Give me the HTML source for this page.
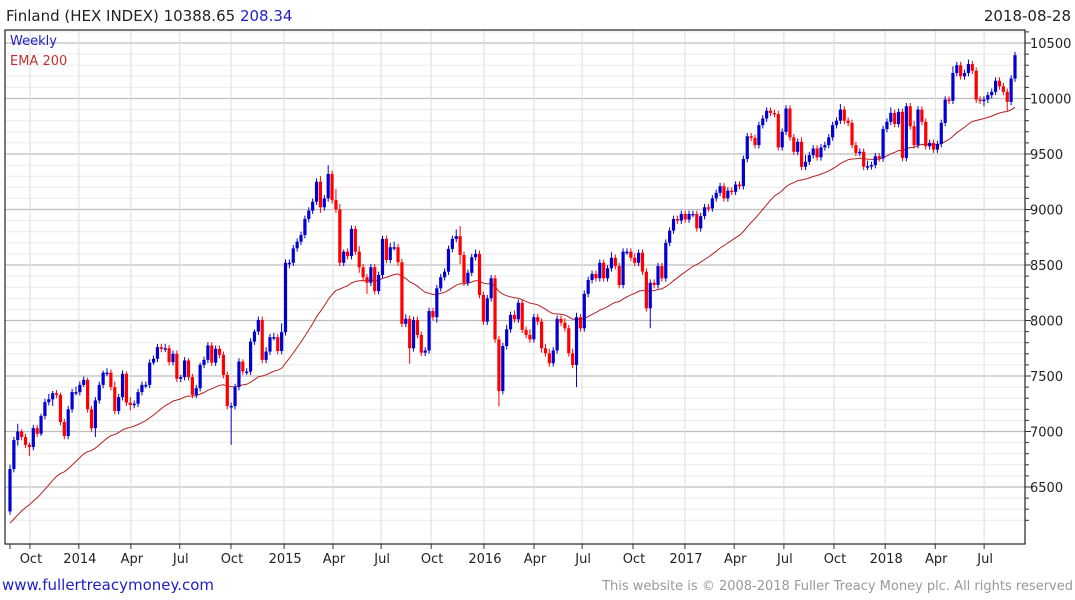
<!DOCTYPE html>
<html><head><meta charset="utf-8"><style>
body{margin:0;background:#fff;width:1075px;height:600px;overflow:hidden;font-family:"DejaVu Sans","Liberation Sans",sans-serif;}
svg{position:absolute;left:0;top:0;font-family:"DejaVu Sans","Liberation Sans",sans-serif}
</style></head><body>
<svg id="chart" width="1075" height="600" xmlns="http://www.w3.org/2000/svg">
<text x="6" y="21" font-size="15" fill="#222">Finland (HEX INDEX) 10388.65 <tspan fill="#1e1ec8">208.34</tspan></text>
<text x="1071" y="21" font-size="15" fill="#222" text-anchor="end">2018-08-28</text>
<g id="grid"></g>
<g id="ema"></g>
<g id="candles"></g>
<rect x="5" y="30" width="1020" height="514" fill="none" stroke="#222" stroke-width="1.2"/>
<g id="yaxis"></g>
<g id="xaxis"></g>
<text x="10" y="45" font-size="13" fill="#1e1ec8">Weekly</text>
<text x="10" y="65" font-size="13" fill="#c03030">EMA 200</text>
<text x="2" y="590" font-size="15" fill="#1e1ec8">www.fullertreacymoney.com</text>
<text x="1073" y="590" font-size="13" fill="#999" text-anchor="end">This website is © 2008-2018 Fuller Treacy Money plc. All rights reserved</text>
</svg>
<script>
const firstOpen = 6280;
const closes = [
6662,6923,7000,6950,6880,6860,7030,6980,7140,7265,7290,7345,7330,7085,6960,7200,7355,7355,7420,7465,7200,7030,7280,7420,7530,7530,7400,7185,7310,7520,7260,7240,7250,7355,7420,7420,7620,7655,7760,7745,7750,7625,7700,7475,7490,7640,7490,7330,7390,7600,7645,7775,7620,7745,7690,7510,7230,7230,7400,7630,7540,7540,7810,7900,
8005,7645,7720,7850,7850,7725,7895,8520,8520,8650,8710,8770,8915,8990,9070,9250,9020,9100,9320,9085,9000,8520,8620,8580,8825,8620,8480,8390,8340,8480,8265,8410,8735,8545,8660,8660,8525,7970,8015,7750,8005,7870,7710,7730,8085,8030,8290,8390,8440,8645,8735,8760,8590,8340,8430,8570,8600,8230,7990,8200,8380,7830,
7365,7770,7920,8050,8010,8160,7915,7870,7830,8030,7990,7750,7705,7615,7730,8015,7980,7930,7705,7600,8030,7930,8240,8365,8420,8380,8520,8380,8470,8565,8490,8320,8620,8620,8565,8520,8610,8440,8110,8340,8320,8490,8380,8700,8810,8915,8900,8960,8910,8960,8960,8830,8940,9020,9010,9100,
9150,
9210,9100,9170,9160,9225,9210,9455,9660,9645,9580,9760,9820,9890,9870,9860,9560,9700,9910,9650,9520,9610,9385,9430,9490,9550,9470,9560,9580,9650,9760,9800,9900,9800,9780,9580,9510,9520,9385,9390,9400,9480,9460,9725,9790,9870,9770,9880,9465,9930,9750,9580,9900,9790,9570,9600,9540,9590,9780,9990,9980,10230,10300,10200,10230,10310,10250,9990,9980,9990,10030,10060,10160,10110,10060,9970,10180,10390];
// wick extensions (index points / 10)
const wickUp = [
4,3,7,2,3,2,3,3,2,3, 5,2,3,2,3,3,3,5,3,3, 2,3,3,3,2,4,3,5,3,3, 2,5,3,3,3,3,3,3,3,3,
4,3,3,3,2,3,2,3,3,2, 3,3,3,3,3,3,3,3,3,3, 2,3,3,2,3,3,4,3,4,3, 8,3,3,3,3,3,3,3,3,3,
5,3,8,3,10,5,2,3,3,3, 5,3,3,3,3,3,3,3,4,5, 3,3,4,3,3,3,3,3,3,3, 3,3,3,3,3,6,9,3,3,3,
4,3,3,3,3,3,3,3,4,3, 4,3,3,3,5,3,3,3,4,4, 3,3,3,4,3,4,4,3,3,3, 3,3,3,3,3,5,3,3,3,3,
3,4,3,3,3,3,3,3,3,3, 3,3,3,3,3,3,3,3,3,3, 3,3,3,3,3,3,3,3,3,3, 3,3,3,3,3,3,3,3,3,3,
3,3,3,3,4,6,3,3,3,3, 3,3,3,3,5,3,3,3,3,3, 3,5,3,3,3,3,3,5,3,3, 3,3,3,5,3,3,3,3,3,3,
3,3,3,6,3,3,3,4,3,3, 3,3,3,3,3,3,3,3,3,3, 4,3,3,3,3,6,3,3,3,3, 3,6,3,3,3,4,3,3,3,3];
const wickDn = [
3,3,5,3,3,8,3,3,2,3, 3,6,3,3,3,3,3,3,3,2, 3,3,8,3,3,3,3,3,3,3, 3,5,3,3,3,3,3,2,3,3,
3,3,3,3,3,3,3,3,3,3, 3,3,3,3,3,3,3,35,3,3, 3,3,3,3,3,3,3,3,3,3, 3,3,5,3,3,3,3,3,3,3,
5,3,3,3,3,3,3,3,3,3, 5,3,10,3,3,3,3,3,3,3, 3,3,3,14,3,3,3,3,3,3, 5,3,3,3,3,3,8,3,3,3,
3,3,3,3,3,3,14,3,3,3, 3,3,3,3,3,3,3,4,3,3, 3,3,3,3,3,3,20,3,3,3, 3,3,3,3,3,3,3,3,3,3,
3,3,3,3,3,18,3,3,3,3, 3,3,3,3,3,3,3,3,3,3, 3,3,3,3,3,3,3,3,3,3, 3,3,3,3,3,3,3,3,3,3,
3,3,3,3,3,3,3,3,3,3, 3,3,3,3,3,3,3,3,3,3, 3,3,3,3,3,3,3,3,3,3, 3,3,3,3,3,3,3,3,3,3,
3,3,3,3,3,3,3,3,3,3, 3,5,3,3,3,3,3,8,3,3, 3,3,3,3,3,3,3,3,3,3, 3,3,3,4,3,3,3,3,3,3];
const emaSeed = 6150;
const emaPeriod = 40;
const yTicks = [6500,7000,7500,8000,8500,9000,9500,10000,10500];
const xLabels = ["Oct","2014","Apr","Jul","Oct","2015","Apr","Jul","Oct","2016","Apr","Jul","Oct","2017","Apr","Jul","Oct","2018","Apr","Jul"];
const xLabelWeeks = [5.4,18,31.4,44,57.2,70.9,83.5,95.9,108.8,122.4,135.3,147.7,160.8,174.2,186.9,199.7,212.6,225.8,238.7,251.3];

const NS="http://www.w3.org/2000/svg";
const N=closes.length;
function X(i){return 10+i*(1005/(N-1));}
function Y(v){return 43+(10500-v)*0.111;}
function mk(t,a,p){const e=document.createElementNS(NS,t);for(const k in a)e.setAttribute(k,a[k]);p.appendChild(e);return e;}
const grid=document.getElementById('grid'),yax=document.getElementById('yaxis'),xax=document.getElementById('xaxis');
for(let v=6200;v<=10600;v+=100){
  const y=Y(v); if(y<31||y>543)continue;
  const major=v%500===0;
  const l=mk('line',{x1:5,x2:1025,y1:y,y2:y,stroke:major?'#bdbdbd':'#ebebeb','stroke-width':major?1.3:1},grid);
  
  
  const t=mk('line',{x1:1025,x2:major?1031:1029,y1:y,y2:y,stroke:'#333'},yax);
  
  
}
yTicks.forEach(v=>{
  const t=mk('text',{x:1030,y:Y(v)+5,'font-size':13,fill:'#222'},yax);
  t.textContent=v;
  
  
});
const t0=mk('line',{x1:10,x2:10,y1:544,y2:549,stroke:'#333'},xax);


xLabels.forEach((s,k)=>{
  const x=X(xLabelWeeks[k]);
  const l=mk('line',{x1:x-1,x2:x-1,y1:30,y2:544,stroke:'#dcdcdc'},grid);
  
  
  const tk=mk('line',{x1:x-1,x2:x-1,y1:544,y2:549,stroke:'#333'},xax);
  
  
  const t=mk('text',{x:x,y:563,'font-size':13,fill:'#222','text-anchor':'middle'},xax);
  t.textContent=s;
  
  
});
// EMA
let e=emaSeed,pts=[];const a=2/(emaPeriod+1);
for(let i=0;i<N;i++){e=e+a*(closes[i]-e);pts.push(X(i).toFixed(1)+','+Y(e).toFixed(1));}
const pl=mk('polyline',{points:pts.join(' '),fill:'none',stroke:'#b22222','stroke-width':1},document.getElementById('ema'));


// candles
const cg=document.getElementById('candles');
for(let i=0;i<N;i++){
  const o=i===0?firstOpen:closes[i-1],c=closes[i];
  const hi=Math.max(o,c)+wickUp[i]*10,lo=Math.min(o,c)-wickDn[i]*10;
  const col=c>=o?'#0000d0':'#ff0000';
  const x=X(i);
  const g=mk('g',{},cg);
  
  
  mk('line',{x1:x,x2:x,y1:Y(hi),y2:Y(lo),stroke:col,'stroke-width':1},g);
  const top=Y(Math.max(o,c)),h=Math.max(1.5,Y(Math.min(o,c))-top);
  mk('rect',{x:x-1.6,y:top,width:3.2,height:h,fill:col},g);
}
</script>
</body></html>
